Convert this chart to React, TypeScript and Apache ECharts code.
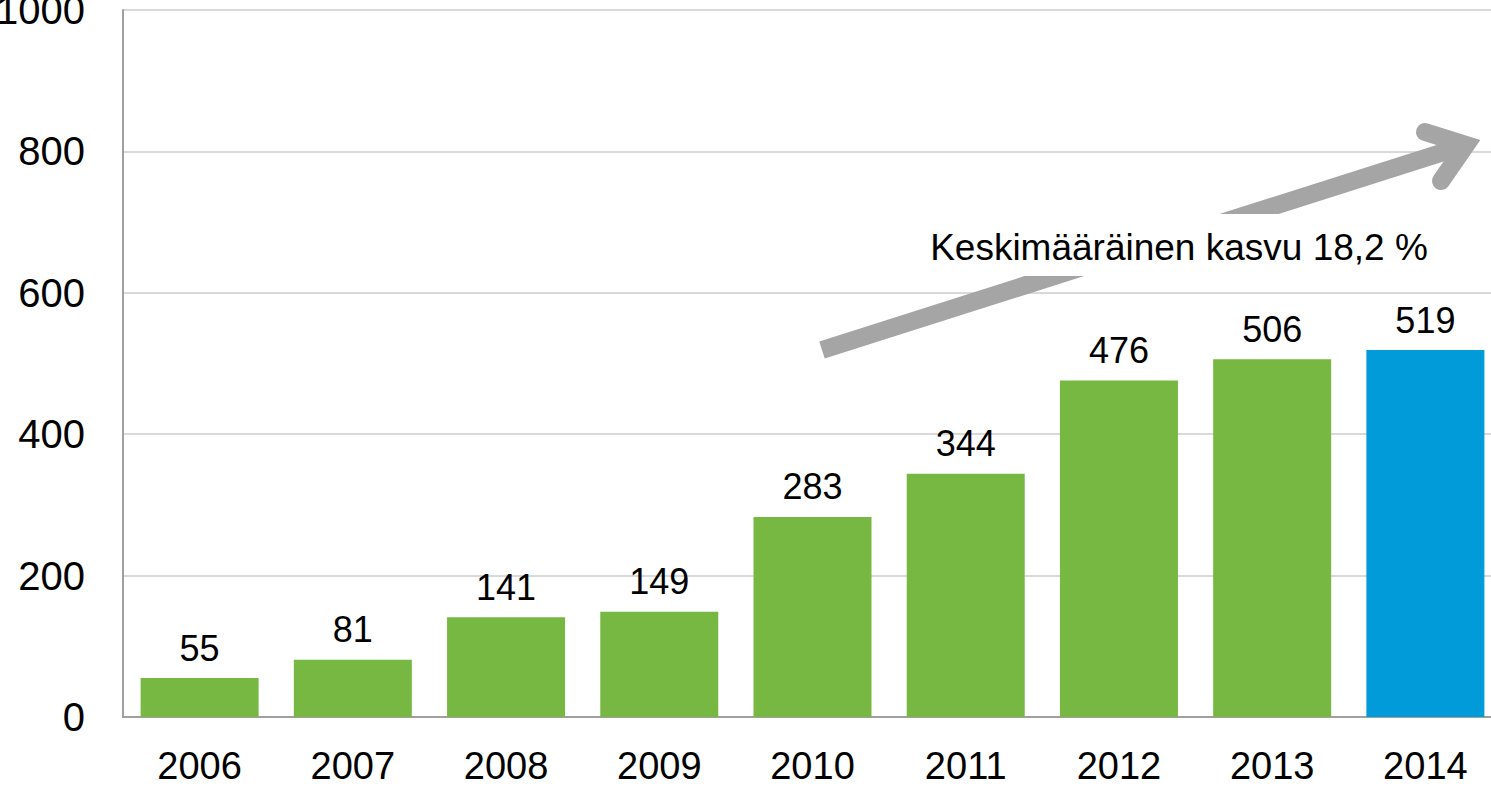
import React, { useEffect, useRef } from "react";
import * as echarts from "echarts";

const categories = ["2006", "2007", "2008", "2009", "2010", "2011", "2012", "2013", "2014"];
const values = [55, 81, 141, 149, 283, 344, 476, 506, 519];
const barColors = ["#77b843", "#77b843", "#77b843", "#77b843", "#77b843", "#77b843", "#77b843", "#77b843", "#009bd8"];
const annotationText = "Keskimääräinen kasvu 18,2 %";

const OFFSET = 40; // chart div is shifted left so the cut-off "1000" label can extend past the page edge
const FONT = "'Liberation Sans', Arial, sans-serif";

export default function App() {
  const ref = useRef<HTMLDivElement>(null);

  useEffect(() => {
    if (!ref.current) return;
    const chart = echarts.init(ref.current, undefined, { renderer: "svg" });
    const X = (x: number) => x + OFFSET;
    const arrowColor = "#a5a5a5";
    chart.setOption({
      animation: false,
      grid: { left: X(123), top: 10, width: 1379, height: 707, containLabel: false, outerBoundsMode: "none" },
      xAxis: {
        type: "category",
        data: categories,
        axisLine: { show: true, lineStyle: { color: "#a0a0a0", width: 2 } },
        axisTick: { show: false },
        axisLabel: { color: "#000", fontSize: 38, fontFamily: FONT, margin: 30 },
      },
      yAxis: {
        type: "value",
        min: 0,
        max: 1000,
        interval: 200,
        axisLine: { show: true, lineStyle: { color: "#a0a0a0", width: 2 } },
        axisTick: { show: false },
        axisLabel: { color: "#000", fontSize: 40, fontFamily: FONT, margin: 38, formatter: (v: number) => String(v) },
        splitLine: { show: true, lineStyle: { color: "#d9d9d9", width: 2 } },
      },
      series: [
        {
          type: "bar",
          data: values.map((v, i) => ({ value: v, itemStyle: { color: barColors[i] } })),
          barWidth: 118,
          label: {
            show: true,
            position: "top",
            distance: 12,
            color: "#000",
            fontSize: 36,
            fontFamily: FONT,
          },
        },
      ],
      graphic: [
        {
          type: "line",
          z: 100,
          shape: { x1: X(822), y1: 350, x2: X(1466), y2: 145 },
          style: { stroke: arrowColor, lineWidth: 18, lineCap: "butt" },
        },
        {
          type: "polyline",
          z: 100,
          shape: { points: [[X(1425), 132], [X(1466), 145], [X(1441), 181]] },
          style: { stroke: arrowColor, lineWidth: 18, lineCap: "round", lineJoin: "miter", miterLimit: 10, fill: null },
        },
        {
          type: "rect",
          z: 101,
          shape: { x: X(915), y: 214, width: 530, height: 62 },
          style: { fill: "#ffffff" },
        },
        {
          type: "text",
          z: 102,
          x: X(1179),
          y: 247,
          style: {
            text: annotationText,
            fill: "#000",
            fontSize: 37,
            fontFamily: FONT,
            align: "center",
            verticalAlign: "middle",
          },
        },
      ],
    });
    return () => chart.dispose();
  }, []);

  return (
    <div style={{ position: "fixed", left: 0, top: 0, width: 1491, height: 786, overflow: "hidden", background: "#fff" }}>
      <div ref={ref} style={{ position: "absolute", left: -OFFSET, top: 0, width: 1491 + OFFSET + 60, height: 786 }} />
    </div>
  );
}
